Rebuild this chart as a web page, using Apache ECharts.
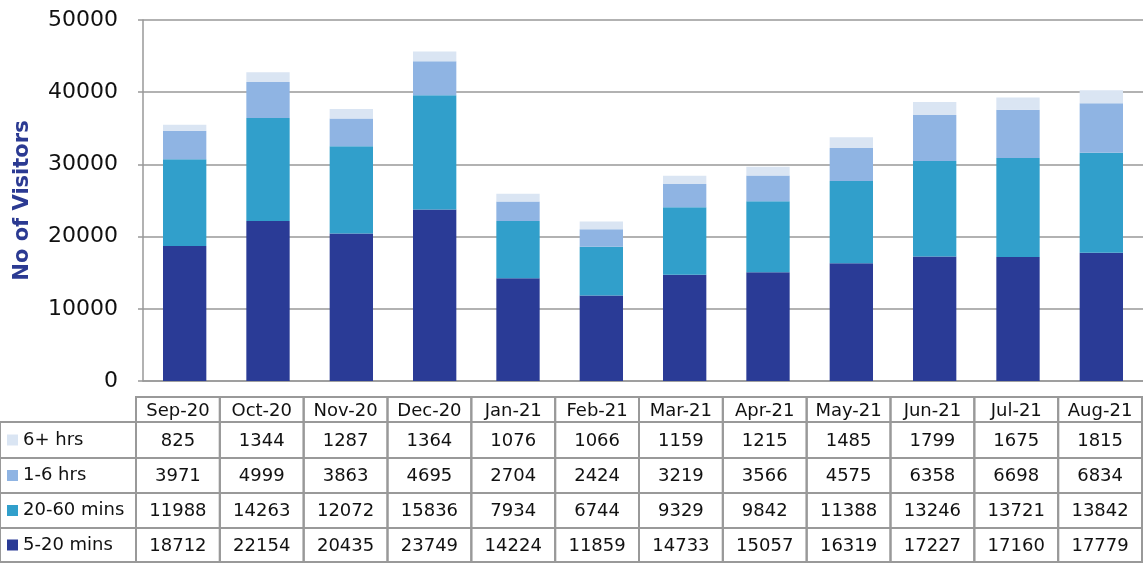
<!DOCTYPE html>
<html><head><meta charset="utf-8">
<script src="https://cdn.jsdelivr.net/npm/echarts@6/dist/echarts.min.js"></script>
<style>html,body{margin:0;padding:0;background:#fff}#c{width:1143px;height:563px}</style>
</head><body><div id="c"></div>
<script>
const categories = ['Sep-20','Oct-20','Nov-20','Dec-20','Jan-21','Feb-21','Mar-21','Apr-21','May-21','Jun-21','Jul-21','Aug-21'];
const mins5to20 = [18712,22154,20435,23749,14224,11859,14733,15057,16319,17227,17160,17779];
const mins20to60 = [11988,14263,12072,15836,7934,6744,9329,9842,11388,13246,13721,13842];
const hrs1to6 = [3971,4999,3863,4695,2704,2424,3219,3566,4575,6358,6698,6834];
const hrs6plus = [825,1344,1287,1364,1076,1066,1159,1215,1485,1799,1675,1815];
const yTicks = [0,10000,20000,30000,40000,50000];

const seriesDefs = [
  {name:'5-20 mins', data:mins5to20, color:'#2A3B96'},
  {name:'20-60 mins', data:mins20to60, color:'#319FCB'},
  {name:'1-6 hrs', data:hrs1to6, color:'#8FB4E3'},
  {name:'6+ hrs', data:hrs6plus, color:'#DAE5F3'}
];
const FF = 'DejaVu Sans';
const TS = 18;
const chart = echarts.init(document.getElementById('c'));

// table layout
const tblLeft = 136, tblRight = 1142, legW = 136;
const headTop = 397, headBot = 422;
const rowEdges = [422, 458, 493, 528, 562];
const colW = (tblRight - tblLeft) / categories.length;
const rowOrder = [3,2,1,0];
const gfx = [];
const border = {stroke:'#999', lineWidth:2, fill:null};
categories.forEach((c,i)=>{
  const x0 = tblLeft + i*colW;
  gfx.push({type:'rect', shape:{x:x0,y:headTop,width:colW,height:headBot-headTop}, style:border, z:10});
  for (let r=0;r<4;r++) gfx.push({type:'rect', shape:{x:x0,y:rowEdges[r],width:colW,height:rowEdges[r+1]-rowEdges[r]}, style:border, z:10});
});
for (let r=0;r<4;r++) gfx.push({type:'rect', shape:{x:0,y:rowEdges[r],width:legW,height:rowEdges[r+1]-rowEdges[r]}, style:border, z:10});

const rich = {
  h:{fontFamily:FF, fontSize:TS, color:'#111', lineHeight:headBot-headTop, align:'center'},
  v:{fontFamily:FF, fontSize:TS, color:'#111', lineHeight:35, align:'center'}
};
function cellLabel(val, idx){
  const lines = ['{h|'+val+'}'];
  rowOrder.forEach(si=>lines.push('{v|'+seriesDefs[si].data[idx]+'}'));
  return lines.join('\n');
}
const legends = rowOrder.map((si,r)=>({
  data:[seriesDefs[si].name], selectedMode:false, orient:'vertical', icon:'rect',
  itemWidth:11, itemHeight:11, padding:0, left:7,
  top:(rowEdges[r]+rowEdges[r+1])/2 - 9,
  textStyle:{fontFamily:FF, fontSize:TS, color:'#111', padding:[2,0,0,0]}
}));

chart.setOption({
  animation:false,
  legend: legends,
  grid:[
    {left:143, right:0, top:20, bottom:182, containLabel:false},
    {left:tblLeft, right:1143-tblRight, top:headTop-1, height:1, containLabel:false}
  ],
  xAxis:[
    {type:'category', data:categories, gridIndex:0,
      axisLine:{show:true, lineStyle:{color:'#999', width:1.5}},
      axisTick:{show:false}, axisLabel:{show:false}},
    {type:'category', data:categories, gridIndex:1, position:'bottom',
      axisLine:{show:false}, axisTick:{show:false}, splitLine:{show:false},
      axisLabel:{show:true, interval:0, margin:2, verticalAlign:'top', formatter:cellLabel, rich:rich}}
  ],
  yAxis:[
    {type:'value', gridIndex:0, min:yTicks[0], max:yTicks[yTicks.length-1], interval:yTicks[1]-yTicks[0],
      name:'No of Visitors', nameLocation:'middle', nameGap:110,
      nameTextStyle:{fontFamily:FF, fontWeight:'bold', fontSize:21, color:'#2B3A92'},
      axisLine:{show:true, lineStyle:{color:'#999', width:1.5}},
      axisTick:{show:true, length:5, lineStyle:{color:'#999', width:1.5}},
      axisLabel:{fontFamily:FF, fontSize:22, color:'#111', margin:25, formatter:v=>String(v)},
      splitLine:{lineStyle:{color:'#999', width:1.5}}},
    {type:'value', gridIndex:1, show:false}
  ],
  series: seriesDefs.map(s=>({type:'bar', name:s.name, stack:'t', data:s.data, barWidth:'52%',
    xAxisIndex:0, yAxisIndex:0, itemStyle:{color:s.color}})),
  graphic: gfx
});
</script></body></html>
